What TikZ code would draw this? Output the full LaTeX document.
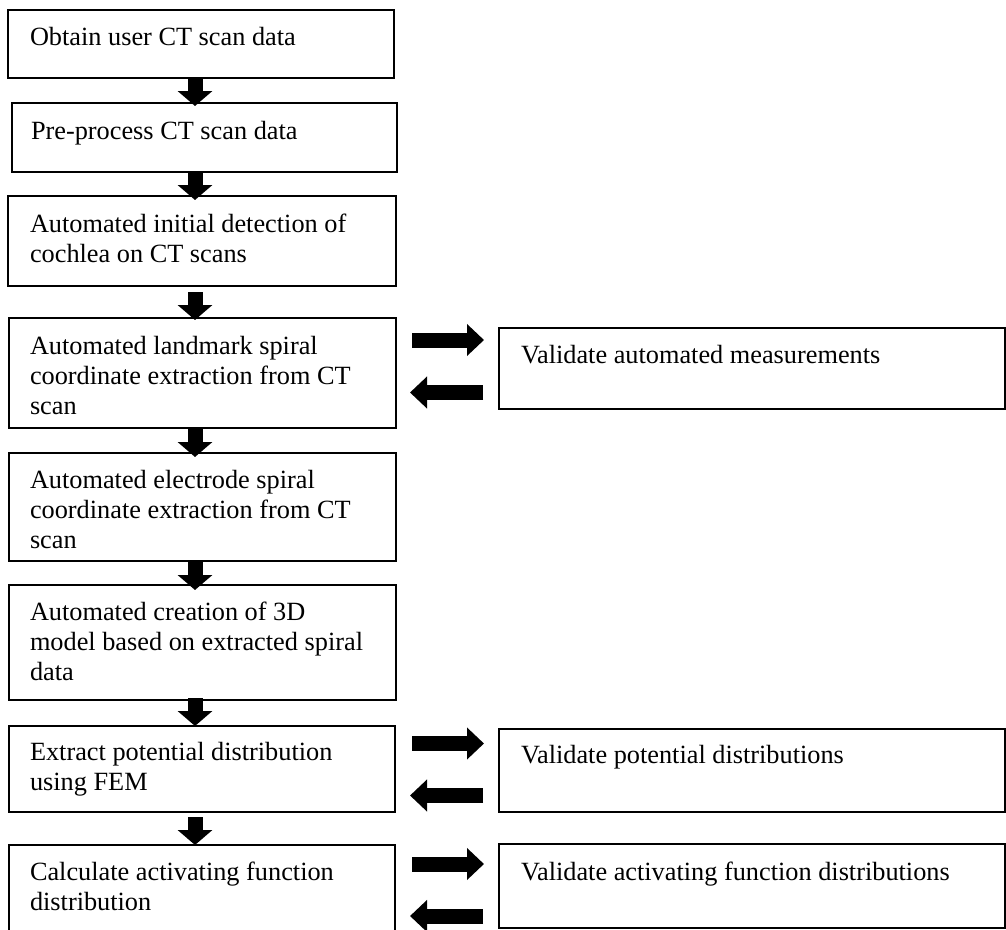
\documentclass[tikz,border=0pt]{standalone}
\usepackage{fontspec}
\setmainfont{Liberation Serif}
\usetikzlibrary{arrows.meta,calc}
\begin{document}
\begin{tikzpicture}[x=1pt,y=-1pt,
  stepbox/.style={draw=black,line width=1.2pt,inner sep=0pt,outer sep=0pt,anchor=north west},
  txt/.style={inner sep=0pt,outer sep=0pt,anchor=base west,align=left,font=\fontsize{26.3}{30}\selectfont},
  downarrow/.style={line width=15pt,-{Triangle[width=34pt,length=15pt]}},
  sidearrow/.style={line width=15pt,-{Triangle[width=31pt,length=17pt]}}]
\useasboundingbox (0,0) rectangle (1006,929);
\coordinate (ax) at (195,0);
% left column
\node[stepbox,minimum width=386pt,minimum height=68pt] (b1) at (8,10) {};
\node[stepbox,minimum width=385pt,minimum height=69pt] (b2) at (12,103) {};
\node[stepbox,minimum width=388pt,minimum height=90pt] (b3) at (8,196) {};
\node[stepbox,minimum width=387pt,minimum height=110pt] (b4) at (9,318) {};
\node[stepbox,minimum width=387pt,minimum height=108pt] (b5) at (9,453) {};
\node[stepbox,minimum width=387pt,minimum height=115pt] (b6) at (9,585) {};
\node[stepbox,minimum width=386pt,minimum height=86pt] (b7) at (9,726) {};
\node[stepbox,minimum width=386pt,minimum height=100pt] (b8) at (9,845) {};
% right column
\node[stepbox,minimum width=506pt,minimum height=81pt] (v1) at (499,328) {};
\node[stepbox,minimum width=506pt,minimum height=83pt] (v2) at (499,729) {};
\node[stepbox,minimum width=506pt,minimum height=84pt] (v3) at (499,844) {};
% texts (multi-line nodes anchored at the baseline of their last line)
\node[txt] (t1) at (30,45.5) {Obtain user CT scan data};
\node[txt] (t2) at (31,139) {Pre-process CT scan data};
\node[txt] (t3) at (30,262) {Automated initial detection of\\cochlea on CT scans};
\node[txt] (t4) at (30,414) {Automated landmark spiral\\coordinate extraction from CT\\scan};
\node[txt] (t5) at (30,548) {Automated electrode spiral\\coordinate extraction from CT\\scan};
\node[txt] (t6) at (30,680) {Automated creation of 3D\\model based on extracted spiral\\data};
\node[txt] (t7) at (30,790) {Extract potential distribution\\using FEM};
\node[txt] (t8) at (30,910) {Calculate activating function\\distribution};
\node[txt] (r1) at (521,363) {Validate automated measurements};
\node[txt] (r2) at (521,763) {Validate potential distributions};
\node[txt] (r3) at (521,880) {Validate activating function distributions};
% down arrows
\draw[downarrow] ($(b1.south -| ax)+(0,-1)$) -- ($(b2.north -| ax)+(0,3)$);
\draw[downarrow] ($(b2.south -| ax)+(0,0)$) -- ($(b3.north -| ax)+(0,4)$);
\draw[downarrow] ($(b3.south -| ax)+(0,6)$) -- ($(b4.north -| ax)+(0,2)$);
\draw[downarrow] ($(b4.south -| ax)+(0,0)$) -- ($(b5.north -| ax)+(0,4)$);
\draw[downarrow] ($(b5.south -| ax)+(0,0)$) -- ($(b6.north -| ax)+(0,5)$);
\draw[downarrow] ($(b6.south -| ax)+(0,-2)$) -- ($(b7.north -| ax)+(0,0)$);
\draw[downarrow] ($(b7.south -| ax)+(0,5)$) -- ($(b8.north -| ax)+(0,0)$);
% side arrows
\draw[sidearrow] ($(b4.north east)+(16,22)$) -- ($(b4.north east -| v1.west)+(-15,22)$);
\draw[sidearrow] ($(b4.north east -| v1.west)+(-16,74.5)$) -- ($(b4.north east)+(14,74.5)$);
\draw[sidearrow] ($(b7.north east)+(17,17.5)$) -- ($(b7.north east -| v2.west)+(-15,17.5)$);
\draw[sidearrow] ($(b7.north east -| v2.west)+(-16,69.5)$) -- ($(b7.north east)+(15,69.5)$);
\draw[sidearrow] ($(b8.north east)+(17,19)$) -- ($(b8.north east -| v3.west)+(-15,19)$);
\draw[sidearrow] ($(b8.north east -| v3.west)+(-16,71)$) -- ($(b8.north east)+(15,71)$);
\end{tikzpicture}
\end{document}
